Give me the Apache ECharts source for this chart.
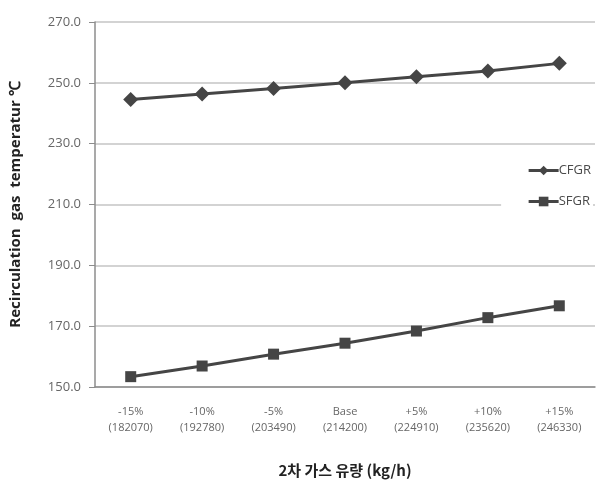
<!DOCTYPE html>
<html>
<head>
<meta charset="utf-8">
<script src="https://cdn.jsdelivr.net/npm/echarts@6/dist/echarts.min.js"></script>
<style>
  html, body { margin: 0; padding: 0; background: #fff; }
  #chart { width: 599px; height: 483px; }
</style>
</head>
<body>
<div id="chart"></div>
<script>
// x axis categories (two-line labels)
const categories = [
  '-15%\n(182070)', '-10%\n(192780)', '-5%\n(203490)', 'Base\n(214200)',
  '+5%\n(224910)', '+10%\n(235620)', '+15%\n(246330)'
]
// recirculation gas temperature (℃)
const cfgr = [244.5, 246.3, 248.1, 250.0, 252.0, 253.9, 256.4]
const sfgr = [153.4, 156.9, 160.8, 164.4, 168.4, 172.8, 176.7]

const lineColor = '#454545'
const myCharts = echarts.init(document.getElementById('chart'))

const options = {
  animation: false,
  backgroundColor: '#fff',
  textStyle: { fontFamily: 'Open Sans, sans-serif' },
  grid: { left: 92, right: 4, top: 22, bottom: 96, containLabel: false },
  legend: {
    orient: 'vertical',
    right: 6,
    top: 161,
    itemGap: 18,
    itemWidth: 30,
    itemHeight: 12,
    backgroundColor: '#fff',
    padding: [3, 2, 3, 26],
    lineStyle: { width: 3 },
    textStyle: { color: '#4a4a4a', fontSize: 13, padding: [0, 0, 0, -5] },
    data: ['CFGR', 'SFGR']
  },
  xAxis: {
    type: 'category',
    data: categories,
    boundaryGap: true,
    name: '2차 가스 유량 (kg/h)',
    nameLocation: 'middle',
    nameGap: 76,
    nameTextStyle: { color: '#222', fontSize: 15, fontWeight: 'bold', fontFamily: 'Noto Sans CJK KR' },
    axisLine: { lineStyle: { color: '#8c8c8c', width: 1.5 } },
    axisTick: { show: false },
    axisLabel: { color: '#666', fontSize: 11, lineHeight: 16, margin: 17 },
    splitLine: { show: false }
  },
  yAxis: {
    type: 'value',
    min: 150,
    max: 270,
    interval: 20,
    name: 'Recirculation  gas  temperatur ℃',
    nameLocation: 'middle',
    nameGap: 72,
    nameRotate: 90,
    nameTextStyle: { color: '#222', fontSize: 15, fontWeight: 'bold' },
    axisLine: { show: true, lineStyle: { color: '#8c8c8c', width: 1.5 } },
    axisTick: { show: true, inside: false, length: 6, lineStyle: { color: '#8c8c8c' } },
    axisLabel: {
      color: '#666', fontSize: 13, margin: 14,
      formatter: v => v.toFixed(1)
    },
    splitLine: { lineStyle: { color: '#c4c4c4', width: 1.5 } }
  },
  series: [
    {
      name: 'CFGR',
      type: 'line',
      data: cfgr,
      symbol: 'diamond',
      symbolSize: 15,
      itemStyle: { color: lineColor },
      lineStyle: { color: lineColor, width: 3 },
      z: 3
    },
    {
      name: 'SFGR',
      type: 'line',
      data: sfgr,
      symbol: 'rect',
      symbolSize: 11,
      itemStyle: { color: lineColor },
      lineStyle: { color: lineColor, width: 3 },
      z: 3
    }
  ]
}
myCharts.setOption(options)
</script>
</body>
</html>
